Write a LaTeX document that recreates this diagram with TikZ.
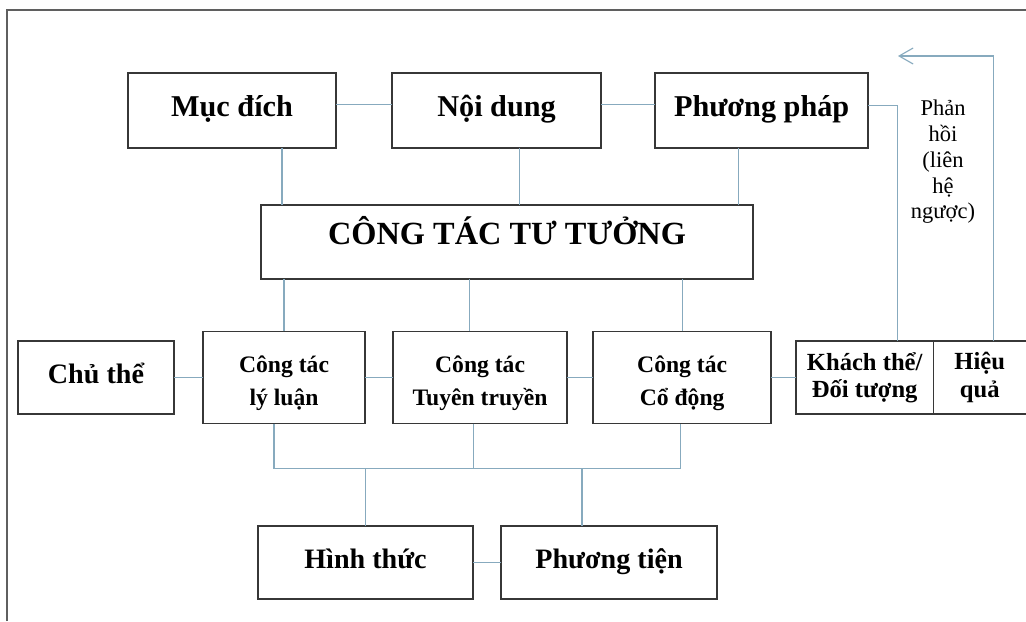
\documentclass[tikz,border=0pt]{standalone}
\usepackage{fontspec}
\setmainfont{Liberation Serif}
\usetikzlibrary{positioning,calc,arrows.meta}

\definecolor{boxgray}{RGB}{55,55,55}
\definecolor{linkblue}{RGB}{135,170,190}
\definecolor{framegray}{RGB}{95,95,95}

\begin{document}
\begin{tikzpicture}[x=0.025cm,y=-0.025cm,
    box/.style={rectangle,draw=boxgray,line width=1pt,outer sep=0pt,inner sep=0pt,align=center,
      minimum height=1.825cm,text height=15pt,text depth=6.5pt,font=\bfseries\fontsize{20}{24}\selectfont},
    topbox/.style={box,minimum height=1.875cm,font=\bfseries\fontsize{21.5}{26}\selectfont},
    smallbox/.style={rectangle,draw=boxgray,line width=1pt,outer sep=0pt,inner sep=0pt,align=center,
      minimum height=2.3cm,text height=44pt,text depth=4.5pt,font=\bfseries\fontsize{16.8}{23.5}\selectfont},
    sidebox/.style={rectangle,draw=boxgray,line width=1pt,outer sep=0pt,inner sep=0pt,align=center,
      minimum height=1.825cm,font=\bfseries\fontsize{17.5}{19.5}\selectfont},
    conn/.style={draw=linkblue,line width=0.8pt}]
    \useasboundingbox (0,0) rectangle (1026,621);
    \draw[framegray,line width=1.1pt] (7,621) -- (7,10) -- (1026,10);

    % top row
    \node[topbox,minimum width=5.2cm] (muc) at (232,110.5) {Mục đích};
    \node[topbox,minimum width=5.225cm,right=1.4cm of muc] (noidung) {Nội dung};
    \node[topbox,minimum width=5.325cm,right=1.35cm of noidung] (phuongphap) {Phương pháp};
    \node[box,minimum width=12.3cm,minimum height=1.85cm,text height=17pt,text depth=13pt,
      font=\bfseries\fontsize{23}{28}\selectfont] (cttt) at (507,242) {CÔNG TÁC TƯ TƯỞNG};

    % middle row
    \node[box,minimum width=3.9cm] (chuthe) at (96,377.5) {Chủ thể};
    \node[smallbox,minimum width=4.05cm,right=0.725cm of chuthe] (lyluan) {Công tác\\lý luận};
    \node[smallbox,minimum width=4.35cm,right=0.7cm of lyluan] (tuyen) {Công tác\\Tuyên truyền};
    \node[smallbox,minimum width=4.45cm,right=0.65cm of tuyen] (codong) {Công tác\\Cổ động};
    \node[sidebox,minimum width=3.425cm,right=0.625cm of codong] (khach) {Khách thể/\\Đối tượng};
    \node[sidebox,minimum width=2.325cm,right=0pt of khach] (hieuqua) {Hiệu\\quả};

    % bottom row
    \node[box,minimum width=5.375cm] (hinhthuc) at (365.5,562.5) {Hình thức};
    \node[box,minimum width=5.4cm,right=0.7cm of hinhthuc] (phuongtien) {Phương tiện};

    \node[align=center,font=\fontsize{16}{18.3}\selectfont] (phanhoi) at (943,162) {Phản\\hồi\\(liên\\hệ\\ngược)};
    \coordinate (fbend) at (898,56);

    \draw[conn] ([yshift=0.16cm]muc.east) -- ([yshift=0.16cm]noidung.west);
    \draw[conn] ([yshift=0.15cm]noidung.east) -- ([yshift=0.15cm]phuongphap.west);
    \draw[conn] ([xshift=1.25cm]muc.south) coordinate (m1) -- (m1 |- cttt.north);
    \draw[conn] ([xshift=0.5625cm]noidung.south) coordinate (n1) -- (n1 |- cttt.north);
    \draw[conn] ([xshift=-0.5875cm]phuongphap.south) coordinate (p1) -- (p1 |- cttt.north);

    \draw[conn] (lyluan.north) -- (lyluan.north |- cttt.south);
    \draw[conn] ([xshift=-0.275cm]tuyen.north) coordinate (t1) -- (t1 |- cttt.south);
    \draw[conn] (codong.north) -- (codong.north |- cttt.south);

    \draw[conn] (chuthe) -- (lyluan);
    \draw[conn] (lyluan) -- (tuyen);
    \draw[conn] (tuyen) -- (codong);
    \draw[conn] (codong) -- (khach);

    \draw[conn] ([xshift=-0.25cm]lyluan.south) -- ++(0,45) coordinate (busL) -| ([xshift=-0.05cm]codong.south);
    \draw[conn] ([xshift=-0.175cm]tuyen.south) coordinate (t2) -- (t2 |- busL);
    \draw[conn] (hinhthuc.north) -- (hinhthuc.north |- busL);
    \draw[conn] ([xshift=-0.675cm]phuongtien.north) coordinate (p2) -- (p2 |- busL);
    \draw[conn] (hinhthuc) -- (phuongtien);

    % phan hoi
    \draw[conn] ([yshift=0.125cm]phuongphap.east) -| ([xshift=0.8125cm]khach.north);
    \draw[conn,-{Straight Barb[length=0.35cm,width=0.4cm]}] ([xshift=0.3375cm]hieuqua.north) |- (fbend);
\end{tikzpicture}
\end{document}
